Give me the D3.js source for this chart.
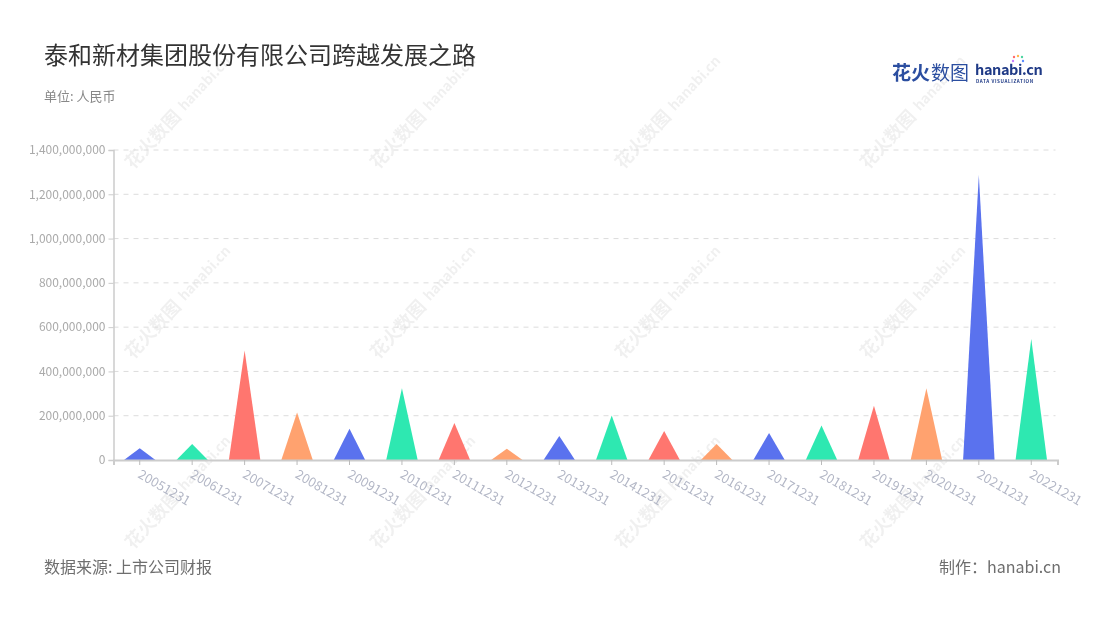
<!DOCTYPE html>
<html><head><meta charset="utf-8">
<script src="https://cdn.jsdelivr.net/npm/d3@7/dist/d3.min.js"></script>
<style>
html,body{margin:0;padding:0;background:#fff;}
svg{display:block;font-family:"Noto Sans CJK SC","Noto Sans",sans-serif;}
</style></head>
<body><svg id="c" width="1100" height="620"></svg>
<script>
const categories = ["20051231","20061231","20071231","20081231","20091231","20101231","20111231","20121231","20131231","20141231","20151231","20161231","20171231","20181231","20191231","20201231","20211231","20221231"];
const values = [53000000,72000000,494000000,215000000,141000000,324000000,167000000,51000000,108000000,201000000,131000000,72000000,122000000,156000000,245000000,324000000,1287000000,547000000];
const palette = ["#5a72ee","#2ee8b1","#ff766f","#ffa26f"];
const yTicks = [0,200000000,400000000,600000000,800000000,1000000000,1200000000,1400000000];
const title = "泰和新材集团股份有限公司跨越发展之路";
const subtitle = "单位: 人民币";
const source = "数据来源: 上市公司财报";
const credit = "制作：hanabi.cn";

(function(){
const svg = d3.select("#c");
const pL = 113.5, pR = 1057.5, pT = 150, pB = 460;

// watermarks
const wm = svg.append("g").attr("opacity",0.06);
const wmX = [133,378,623,868], wmY = [170,360,550];
wmY.forEach(yy=>wmX.forEach(xx=>{
  const g = wm.append("g").attr("transform",`translate(${xx},${yy}) rotate(-47)`);
  g.append("text").attr("x",0).attr("y",0).attr("font-size",18).attr("font-weight","bold").attr("fill","#000").text("花火数图");
  g.append("text").attr("x",78).attr("y",-2).attr("font-size",14).attr("font-weight","bold").attr("fill","#000").text("hanabi.cn");
}));

const x = d3.scaleBand().domain(categories).range([pL,pR]).padding(0);
const y = d3.scaleLinear().domain([0,1400000000]).range([pB,pT]);

// grid
svg.append("g").selectAll("line").data(yTicks.slice(1)).join("line")
  .attr("x1",pL).attr("x2",pR-2).attr("y1",d=>y(d)).attr("y2",d=>y(d))
  .attr("stroke","#dcdcdc").attr("stroke-width",1).attr("stroke-dasharray","5,5");

// y axis
const yAxis = d3.axisLeft(y).tickValues(yTicks).tickSize(5).tickPadding(3).tickFormat(d3.format(","));
const ya = svg.append("g").attr("transform",`translate(${pL},0)`).call(yAxis);
ya.select(".domain").attr("stroke","#cccccc").attr("stroke-width",1.5);
ya.selectAll(".tick line").attr("stroke","#cccccc");
ya.selectAll(".tick text").attr("fill","#aaaaaa").attr("font-size",12).attr("font-family","'Noto Sans CJK SC',sans-serif");

// bars (triangles)
const bw = x.bandwidth()*0.6;
svg.append("g").selectAll("path").data(values).join("path")
  .attr("d",(d,i)=>{
    const cx = x(categories[i]) + x.bandwidth()/2;
    return `M${cx-bw/2},${y(0)}L${cx},${y(d)}L${cx+bw/2},${y(0)}Z`;
  })
  .attr("fill",(d,i)=>palette[i%4]);

// x axis
const xAxis = d3.axisBottom(x).tickSize(5).tickFormat("");
const xa = svg.append("g").attr("transform",`translate(0,${pB})`).call(xAxis);
xa.select(".domain").attr("stroke","#cccccc").attr("stroke-width",2);
xa.selectAll(".tick line").attr("stroke","#bbbbbb");
svg.append("g").selectAll("text").data(categories).join("text")
  .attr("transform",d=>`translate(${x(d)+x.bandwidth()/2-1},${pB+14}) rotate(30)`)
  .attr("dominant-baseline","middle").attr("text-anchor","start")
  .attr("font-size",13).attr("fill","#b3b7c6").text(d=>d);

// titles
svg.append("text").attr("x",44).attr("y",64).attr("font-size",24).attr("fill","#333").text(title);
svg.append("text").attr("x",44).attr("y",101).attr("font-size",13).attr("fill","#888").text(subtitle);
svg.append("text").attr("x",44).attr("y",573).attr("font-size",16).attr("fill","#6e6e6e").text(source);
svg.append("text").attr("x",1061).attr("y",573).attr("font-size",16).attr("fill","#6e6e6e").attr("text-anchor","end").text(credit);

// logo
const lg = svg.append("g");
lg.append("text").attr("x",892).attr("y",80).attr("font-size",19).attr("font-weight","bold").attr("fill","#2b4ea0").text("花火");
lg.append("text").attr("x",931).attr("y",80).attr("font-size",19).attr("fill","#2b4ea0").text("数图");
lg.append("text").attr("x",975).attr("y",74.5).attr("font-size",14.5).attr("font-weight","bold").attr("fill","#1f3a86").attr("letter-spacing",-0.4).text("hanabi.cn");
lg.append("text").attr("x",976).attr("y",83).attr("font-size",4.6).attr("font-weight","bold").attr("fill","#1f3a86").attr("letter-spacing",0.6).text("DATA VISUALIZATION");
const sparks = [["#ff6b6b",-4,-5],["#ffb84d",0,-6],["#4dd4a0",4,-5],["#5a8bff",5,-1],["#c77dff",-5,-1]];
sparks.forEach(s=>lg.append("circle").attr("cx",1018+s[1]).attr("cy",62+s[2]).attr("r",1.2).attr("fill",s[0]));
})();
</script></body></html>
